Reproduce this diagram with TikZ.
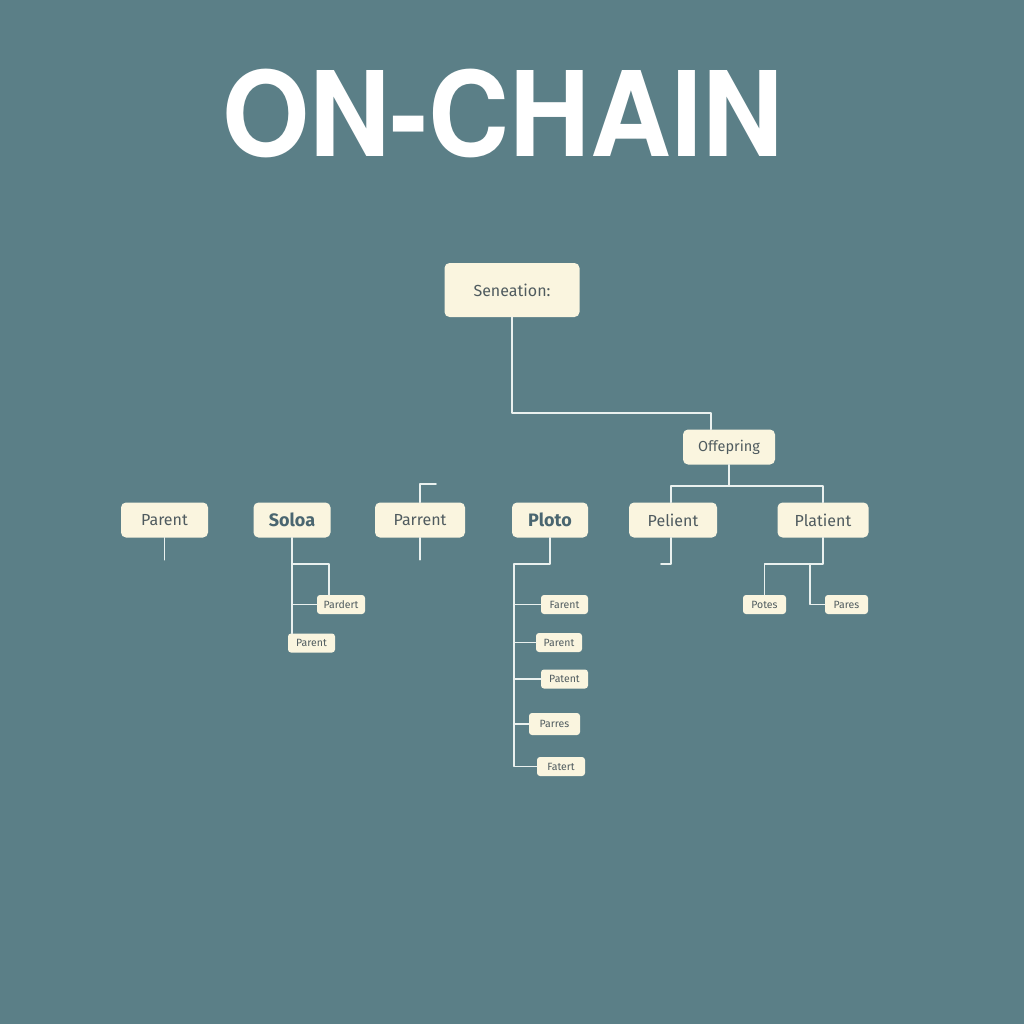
\documentclass[tikz,border=0pt]{standalone}
\usepackage{fontspec}
\setmainfont{Fira Sans}
\newfontfamily\titlefont{TeX Gyre Heros}
\usepackage{tikz}
\usetikzlibrary{calc}

\definecolor{bgTeal}{HTML}{5B7F87}
\definecolor{boxCream}{HTML}{FAF5DF}
\definecolor{inkGrey}{HTML}{4F5B5F}
\definecolor{inkBlue}{HTML}{4A6670}
\definecolor{wireWhite}{HTML}{EAF1EF}

\tikzset{
  box/.style={fill=boxCream, rounded corners=5pt, inner sep=0pt, text=inkGrey,
    minimum height=35pt, font=\fontsize{16}{18}\selectfont},
  headbox/.style={box, text=inkBlue, font=\bfseries\fontsize{18}{20}\selectfont},
  leaf/.style={box, rounded corners=3pt, minimum height=19pt,
    font=\fontsize{10.5}{12}\selectfont},
  link/.style={draw=wireWhite, line width=1.8pt},
}

\begin{document}
\begin{tikzpicture}[x=1pt, y=-1pt, line cap=round, line join=round]

  % Canvas (pixel grid, y downwards)
  \fill[bgTeal] (0,0) rectangle (1024,1024);
  \useasboundingbox (0,0) rectangle (1024,1024);

  % Title
  \node[anchor=base, text=white, inner sep=0pt] (title) at (503,157)
    {\titlefont\bfseries\fontsize{118}{120}\selectfont\scalebox{0.95}[1]{ON-CHAIN}};

  % Top of the tree
  \node[box, minimum width=135pt, minimum height=54pt] (sen) at (512,290) {Seneation:};
  \node[box, minimum width=92pt, font=\fontsize{14.5}{16}\selectfont] (off) at (729,447) {Offepring};

  % Second row
  \node[box, minimum width=87pt]     (par1) at (164.5,520) {Parent};
  \node[headbox, minimum width=77pt] (solo) at (292,520)   {Soloa};
  \node[box, minimum width=90pt]     (parr) at (420,520)   {Parrent};
  \node[headbox, minimum width=76pt] (plo)  at (550,520)   {Ploto};
  \node[box, minimum width=88pt]     (pel)  at (673,520)   {Pelient};
  \node[box, minimum width=91pt]     (pla)  at (823,520)   {Platient};

  % Leaves under Soloa
  \node[leaf, minimum width=48pt] (sol1) at (341,604.5) {Pardert};
  \node[leaf, minimum width=47pt] (sol2) at (311.5,643) {Parent};

  % Leaves under Ploto
  \node[leaf, minimum width=47pt] (pl1) at (564.5,604.5) {Farent};
  \node[leaf, minimum width=46pt] (pl2) at (559,642.5)   {Parent};
  \node[leaf, minimum width=47pt] (pl3) at (564.5,679)   {Patent};
  \node[leaf, minimum width=51pt, minimum height=22pt] (pl4) at (554.5,724) {Parres};
  \node[leaf, minimum width=48pt] (pl5) at (561,766.5)   {Fatert};

  % Leaves under Platient
  \node[leaf, minimum width=43pt] (pot)  at (764.5,604.5) {Potes};
  \node[leaf, minimum width=43pt] (pare) at (846.5,604.5) {Pares};

  % Seneation -> Offepring
  \coordinate (offin) at ($(off.north)+(-18,0)$);
  \draw[link] (sen.south) -- ++(0,96) -| (offin);

  % Offepring -> Pelient, Platient
  \draw[link] (off.south) -- ++(0,21) coordinate (obar);
  \draw[link] ($(pel.north)+(-2,0)$) |- (obar) -| (pla.north);

  % Stubs on the second row
  \draw[link] (par1.south) -- ++(0,22);
  \draw[link] (parr.north) -- ++(0,-18) -- ++(16,0);
  \draw[link] (parr.south) -- ++(0,22);
  \draw[link] ($(pel.south)+(-2,0)$) -- ++(0,26) -- ++(-10,0);

  % Soloa branches
  \coordinate (sfork) at ($(sol1.north west)+(12,0)$);
  \draw[link] (solo.south) -- (solo.south |- sol2.north);
  \draw[link] ($(solo.south)+(0,26)$) -| (sfork);
  \draw[link] (solo.south |- sol1.west) -- (sol1.west);

  % Ploto spine
  \coordinate (spine) at (514,564);
  \draw[link] (plo.south) |- (spine) -- (spine |- pl5.west) -- (pl5.west);
  \foreach \i in {1,...,4}
    \draw[link] (spine |- pl\i.west) -- (pl\i.west);

  % Platient branches
  \draw[link] (pla.south) -- ++(0,26) coordinate (pbar) -- (pbar -| pot.north) -- (pot.north);
  \coordinate (pfork) at (810,564);
  \draw[link] (pfork) |- (pare.west);

\end{tikzpicture}
\end{document}
